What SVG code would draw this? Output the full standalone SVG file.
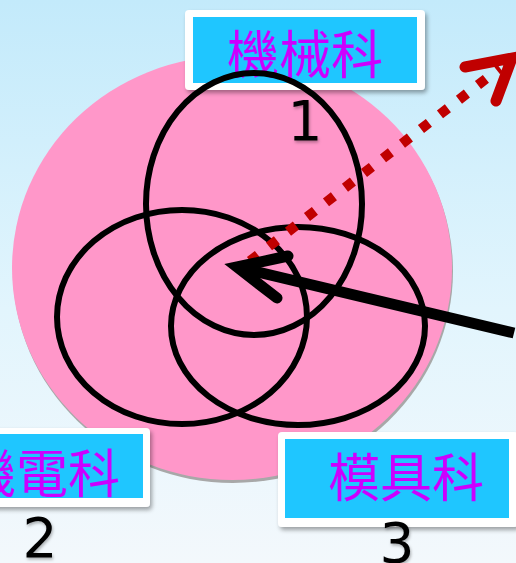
<svg xmlns="http://www.w3.org/2000/svg" width="516" height="563" viewBox="0 0 516 563">
<defs>
<linearGradient id="bg" x1="0" y1="0" x2="0" y2="1">
<stop offset="0" stop-color="#C3EAFB"/>
<stop offset="0.55" stop-color="#E2F5FD"/>
<stop offset="1" stop-color="#F3F8FC"/>
</linearGradient>
<filter id="sh" x="-20%" y="-20%" width="140%" height="150%">
<feDropShadow dx="2" dy="3" stdDeviation="2" flood-color="#000" flood-opacity="0.35"/>
</filter>
<filter id="tsh" x="-20%" y="-20%" width="140%" height="150%">
<feDropShadow dx="1" dy="2" stdDeviation="1.5" flood-color="#000" flood-opacity="0.3"/>
</filter>
</defs>
<style>
.frame{fill:#FFFFFF;filter:url(#sh)}
.box{fill:#1FC6FF}
.lbl{font-family:"Noto Sans CJK TC","Noto Sans CJK SC",sans-serif;font-size:52px;fill:#CC00FF}
.num{font-family:"DejaVu Sans",sans-serif;font-size:55px;fill:#000;filter:url(#tsh)}
.ring{fill:none;stroke:#000;stroke-width:6}
</style>
<rect x="0" y="0" width="516" height="563" fill="url(#bg)"/>
<g id="base">
<ellipse cx="233" cy="271" rx="220" ry="212" fill="#A8A8A8"/>
<ellipse cx="232" cy="268" rx="220" ry="212" fill="#FF97C9"/>
</g>
<g id="node1">
<rect class="frame" x="185" y="10" width="240" height="80" rx="4"/>
<rect class="box" x="193" y="17" width="224" height="66"/>
<text class="lbl" x="305" y="74" text-anchor="middle">機械科</text>
<text class="num" x="305" y="140" text-anchor="middle">1</text>
</g>
<g id="node2">
<rect class="frame" x="-10" y="428" width="160" height="79" rx="4"/>
<rect class="box" x="-10" y="434" width="153" height="64"/>
<text class="lbl" x="120" y="493" text-anchor="end">機電科</text>
<text class="num" x="40" y="557" text-anchor="middle">2</text>
</g>
<g id="node3">
<rect class="frame" x="278" y="432" width="240" height="95" rx="4"/>
<rect class="box" x="285" y="439" width="224" height="79"/>
<text class="lbl" x="406" y="497" text-anchor="middle">模具科</text>
<text class="num" x="397" y="562" text-anchor="middle">3</text>
</g>
<g id="rings">
<ellipse class="ring" cx="254" cy="204" rx="108" ry="131"/>
<ellipse class="ring" cx="182" cy="317" rx="125" ry="107"/>
<ellipse class="ring" cx="298" cy="326" rx="127" ry="99"/>
</g>
<g id="connectors">
<line x1="250" y1="261" x2="500" y2="68" stroke="#C00000" stroke-width="10" stroke-dasharray="10 14"/>
<path d="M465,67 L512,58 L496,101" fill="none" stroke="#C00000" stroke-width="11" stroke-linecap="round" stroke-linejoin="miter"/>
<line x1="514" y1="333" x2="245" y2="269" stroke="#000" stroke-width="11"/>
<path d="M288,256 L237,267 L277,298" fill="none" stroke="#000" stroke-width="11" stroke-linecap="round" stroke-linejoin="miter" stroke-miterlimit="10"/>
</g>
</svg>
